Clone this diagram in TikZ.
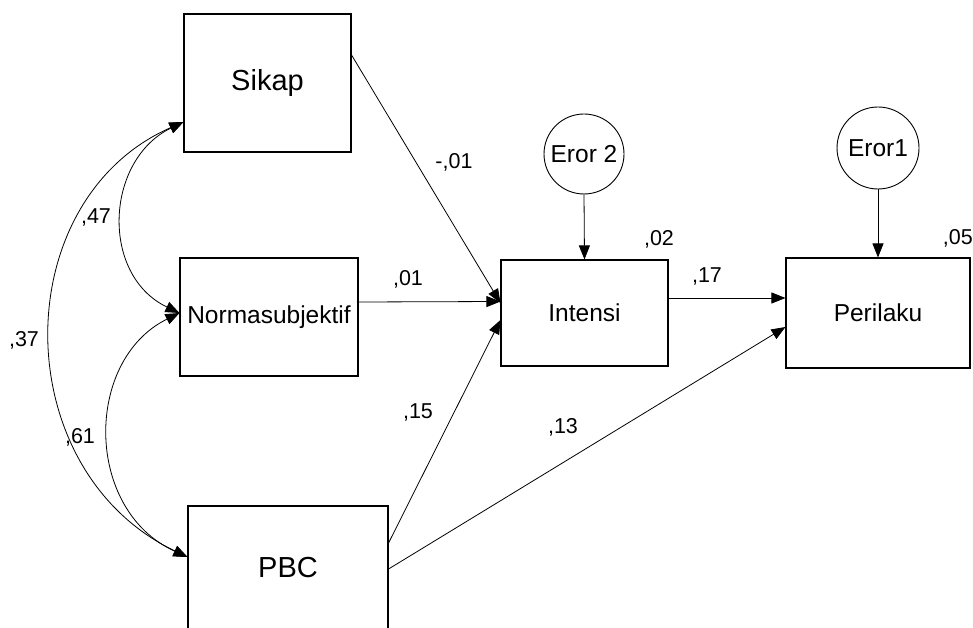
\documentclass[tikz,border=0pt]{standalone}
\usepackage{fontspec}
\setmainfont{Liberation Sans}
\usetikzlibrary{arrows.meta}
\newcommand\fbig{\fontsize{29}{31}\selectfont}
\newcommand\fmid{\fontsize{24.5}{26}\selectfont}
\newcommand\fnum{\fontsize{21.5}{23}\selectfont}
\begin{document}
\begin{tikzpicture}[x=1pt,y=-1pt,
  varbox/.style={draw=black, line width=1.1pt, inner sep=0pt},
  errc/.style={circle, draw=black, line width=0.9pt, inner sep=0pt, font=\fmid},
  num/.style={inner sep=0pt, font=\fnum},
  conn/.style={line width=0.8pt, -{Triangle[length=14pt,width=11pt]}},
  cov/.style={line width=0.8pt, {Triangle[length=14pt,width=11pt]}-{Triangle[length=14pt,width=11pt]}}]
\useasboundingbox (0,0) rectangle (973,628);
\fill[white] (0,0) rectangle (973,628);
\begin{scope}
\clip (0,0) rectangle (973,628);
% boxes
\node[varbox, minimum width=167pt, minimum height=138pt, font=\fbig] (sikap) at (267.5,83) {Sikap};
\node[varbox, minimum width=178pt, minimum height=118pt, font=\fmid] (norma) at (269,317) {Normasubjektif};
\node[varbox, minimum width=200pt, minimum height=124pt, font=\fbig] (pbc) at (288,568) {PBC};
\node[varbox, minimum width=167pt, minimum height=106pt, font=\fmid] (intensi) at (584.5,313) {Intensi};
\node[varbox, minimum width=184pt, minimum height=110pt, font=\fmid] (perilaku) at (878,313) {Perilaku};
% error circles
\node[errc, minimum size=80pt] (e2) at (584,154) {Eror 2};
\node[errc, minimum size=82pt] (e1) at (878,148) {Eror1};
% paths
\draw[conn] ([yshift=28pt]sikap.east) -- ([yshift=10pt]intensi.west);
\draw[conn] ([yshift=15pt]norma.east) -- ([yshift=11.5pt]intensi.west);
\draw[conn] ([yshift=25pt]pbc.east) -- ([yshift=-7pt]intensi.west);
\draw[conn] ([yshift=-1pt]pbc.east) -- ([yshift=-14pt]perilaku.west);
\draw[conn] ([yshift=15pt]intensi.east) -- ([yshift=15pt]perilaku.west);
\draw[conn] (e2.south) -- (intensi.north);
\draw[conn] (e1.south) -- (perilaku.north);
% covariances
\draw[cov] ([yshift=-39pt]sikap.west) .. controls (105,160) and (100,275) .. ([yshift=4pt]norma.west);
\draw[cov] ([yshift=4pt]norma.west) .. controls (84,360) and (84,510) .. ([yshift=11pt]pbc.west);
\draw[cov] ([yshift=-39pt]sikap.west) .. controls (6,200) and (6,470) .. ([yshift=11pt]pbc.west);
% labels
\node[num] (l1) at (454,162) {-,01};
\node[num] (l2) at (408,279) {,01};
\node[num] (l3) at (707,276) {,17};
\node[num] (l4) at (418,412) {,15};
\node[num] (l5) at (563,427) {,13};
\node[num] (l6) at (659,239) {,02};
\node[num, anchor=east] (l7) at (973,238) {,05};
\node[num] (l8) at (96,217) {,47};
\node[num] (l9) at (24,340) {,37};
\node[num] (l10) at (80,437) {,61};
\end{scope}
\end{tikzpicture}
\end{document}
